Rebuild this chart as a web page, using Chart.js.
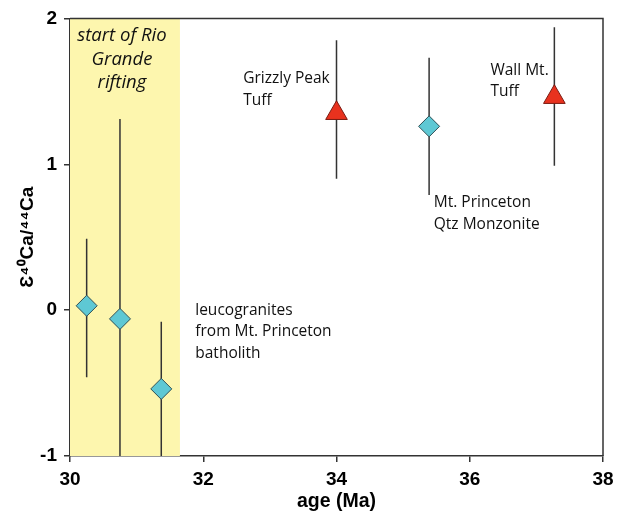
<!DOCTYPE html>
<html>
<head>
<meta charset="utf-8">
<script src="https://cdn.jsdelivr.net/npm/chart.js@4.4.1/dist/chart.umd.min.js"></script>
<style>
  html, body { margin: 0; padding: 0; background: #fff; }
  #wrap { width: 624px; height: 513px; }
</style>
</head>
<body>
<div id="wrap"><canvas id="chart" width="624" height="513"></canvas></div>
<script>
// leucogranites + Mt. Princeton (diamonds)
const diamondAge = [30.25, 30.75, 31.37, 35.39];
const diamondEps = [0.03, -0.06, -0.54, 1.26];
const diamondLow = [-0.46, -1.43, -1.01, 0.79];
const diamondHigh = [0.49, 1.31, -0.08, 1.73];

// tuffs (triangles)
const tuffAge = [34.0, 37.27];
const tuffEps = [1.35, 1.46];
const tuffLow = [0.90, 0.99];
const tuffHigh = [1.85, 1.94];

// rifting band
const riftStart = 30;
const riftEnd = 31.65;

const xTicks = [30, 32, 34, 36, 38];
const yTicks = [-1, 0, 1, 2];

const notes = [
  { lines: ['start of Rio', 'Grande', 'rifting'], x: 30.78, y: 1.88, italic: true, center: true, size: 18.5, gap: 23.5 },
  { lines: ['Grizzly Peak', 'Tuff'], x: 32.6, y: 1.59, size: 15.5, gap: 22 },
  { lines: ['Wall Mt.', 'Tuff'], x: 36.31, y: 1.645, size: 15.5, gap: 21 },
  { lines: ['Mt. Princeton', 'Qtz Monzonite'], x: 35.46, y: 0.735, size: 15.5, gap: 22 },
  { lines: ['leucogranites', 'from Mt. Princeton', 'batholith'], x: 31.88, y: 0.0, size: 15.5, gap: 21.5 }
];

const fontText = '"Open Sans", "Noto Sans", sans-serif';
const fontAxis = '"Liberation Sans", Arial, sans-serif';
const lineCol = '#333333';

const bandPlugin = {
  id: 'band',
  beforeDatasetsDraw(chart) {
    const { ctx, chartArea: a, scales: { x } } = chart;
    ctx.save();
    ctx.fillStyle = '#fdf6ae';
    const x0 = x.getPixelForValue(riftStart);
    const x1 = x.getPixelForValue(riftEnd);
    ctx.fillRect(x0, a.top, x1 - x0, a.bottom - a.top);

    // error bars
    ctx.beginPath();
    ctx.rect(a.left, a.top, a.right - a.left, a.bottom - a.top);
    ctx.clip();
    ctx.strokeStyle = lineCol;
    ctx.lineWidth = 1.5;
    const bars = (ages, lo, hi) => {
      ages.forEach((age, i) => {
        const px = x.getPixelForValue(age);
        ctx.beginPath();
        ctx.moveTo(px, chart.scales.y.getPixelForValue(lo[i]));
        ctx.lineTo(px, chart.scales.y.getPixelForValue(hi[i]));
        ctx.stroke();
      });
    };
    bars(diamondAge, diamondLow, diamondHigh);
    bars(tuffAge, tuffLow, tuffHigh);
    ctx.restore();
  },
  afterDraw(chart) {
    const { ctx, chartArea: a, scales: { x, y } } = chart;
    ctx.save();
    // frame top and right
    ctx.strokeStyle = lineCol;
    ctx.lineWidth = 1.5;
    ctx.beginPath();
    ctx.moveTo(a.left, a.top);
    ctx.lineTo(a.right, a.top);
    ctx.lineTo(a.right, a.bottom);
    ctx.stroke();

    ctx.fillStyle = '#111';
    ctx.textBaseline = 'middle';
    notes.forEach(n => {
      ctx.font = (n.italic ? 'italic ' : '') + n.size + 'px ' + fontText;
      ctx.textAlign = n.center ? 'center' : 'left';
      const px = x.getPixelForValue(n.x);
      const py = y.getPixelForValue(n.y);
      n.lines.forEach((t, i) => ctx.fillText(t, px, py + i * n.gap));
    });
    ctx.restore();
  }
};

const ctx = document.getElementById('chart').getContext('2d');
new Chart(ctx, {
  type: 'scatter',
  data: {
    datasets: [
      {
        label: 'diamonds',
        data: diamondAge.map((a, i) => ({ x: a, y: diamondEps[i] })),
        pointStyle: 'rectRot',
        pointRadius: 10.5,
        backgroundColor: '#5ec8d4',
        borderColor: '#2f4f55',
        borderWidth: 1
      },
      {
        label: 'tuffs',
        data: tuffAge.map((a, i) => ({ x: a, y: tuffEps[i] })),
        pointStyle: 'triangle',
        pointRadius: 12.5,
        backgroundColor: '#e8321e',
        borderColor: '#7a1a10',
        borderWidth: 1
      }
    ]
  },
  options: {
    responsive: false,
    animation: false,
    layout: { padding: { top: 18, right: 21, left: 0, bottom: 0 } },
    plugins: { legend: { display: false }, tooltip: { enabled: false } },
    scales: {
      x: {
        type: 'linear',
        min: 30,
        max: 38,
        afterBuildTicks: s => { s.ticks = xTicks.map(v => ({ value: v })); },
        afterFit: s => { s.height = 57; },
        border: { display: true, color: lineCol, width: 1.5 },
        grid: { drawOnChartArea: false, drawTicks: true, tickLength: 6, color: lineCol, lineWidth: 1.5 },
        ticks: { color: '#000', padding: 6, font: { family: fontAxis, size: 19, weight: 'bold' } },
        title: { display: true, text: 'age (Ma)', color: '#000', padding: { top: 0, bottom: 0 }, font: { family: fontAxis, size: 19.5, weight: 'bold' } }
      },
      y: {
        min: -1,
        max: 2,
        afterBuildTicks: s => { s.ticks = yTicks.map(v => ({ value: v })); },
        afterFit: s => { s.width = 70; },
        border: { display: true, color: lineCol, width: 1.5 },
        grid: { drawOnChartArea: false, drawTicks: true, tickLength: 6, color: lineCol, lineWidth: 1.5 },
        ticks: { color: '#000', padding: 7, font: { family: fontAxis, size: 19, weight: 'bold' } },
        title: { display: true, text: 'Ɛ⁴⁰Ca/⁴⁴Ca', color: '#000', padding: { top: 16, bottom: 0 }, font: { family: fontAxis, size: 19, weight: 'bold' } }
      }
    }
  },
  plugins: [bandPlugin]
});
</script>
</body>
</html>
